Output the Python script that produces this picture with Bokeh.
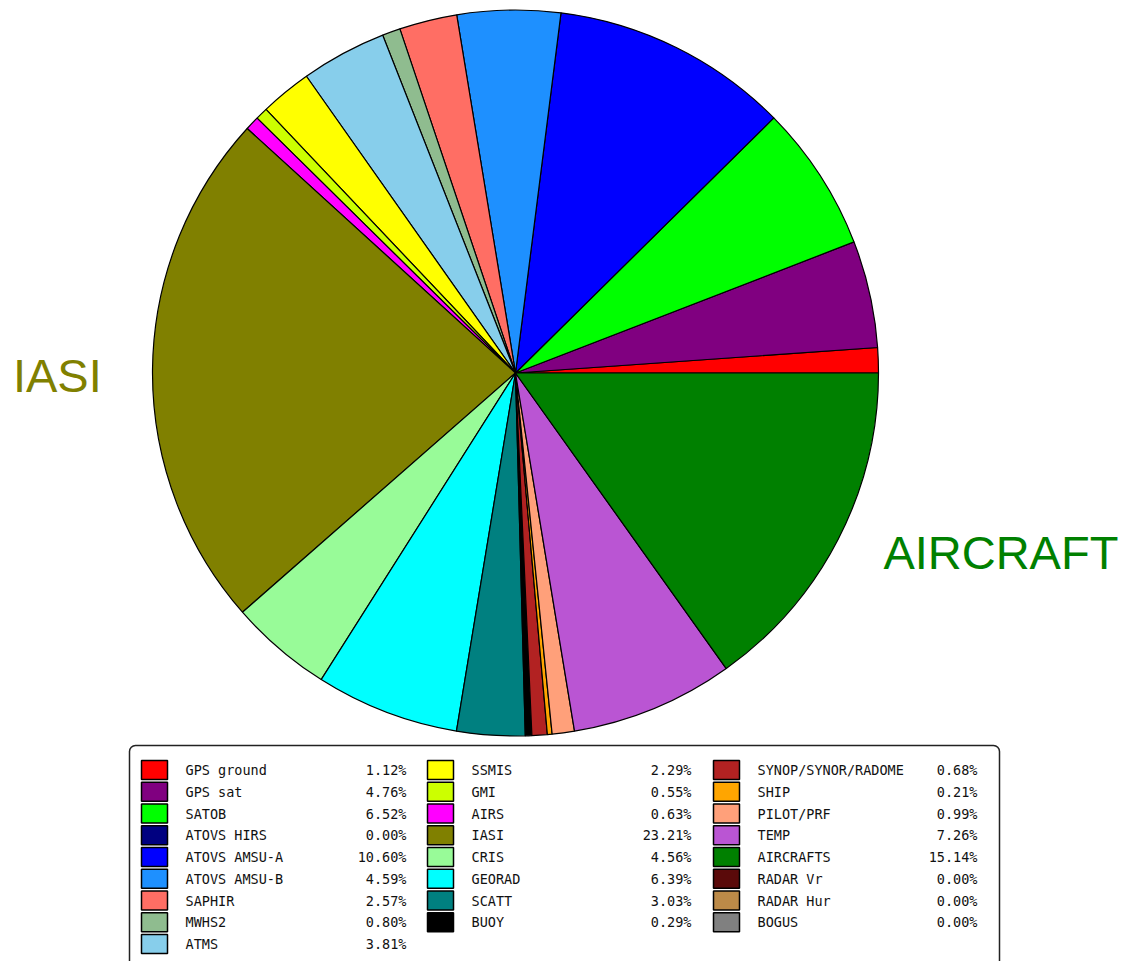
import math
from bokeh.plotting import figure
from bokeh.models import Range1d, BoxAnnotation, ColumnDataSource
from bokeh.core.properties import value
from bokeh.embed import file_html
from bokeh.resources import INLINE

names = ["GPS ground", "GPS sat", "SATOB", "ATOVS HIRS", "ATOVS AMSU-A", "ATOVS AMSU-B",
         "SAPHIR", "MWHS2", "ATMS",
         "SSMIS", "GMI", "AIRS", "IASI", "CRIS", "GEORAD", "SCATT", "BUOY",
         "SYNOP/SYNOR/RADOME", "SHIP", "PILOT/PRF", "TEMP", "AIRCRAFTS", "RADAR Vr", "RADAR Hur", "BOGUS"]
percents = [1.12, 4.76, 6.52, 0.00, 10.60, 4.59, 2.57, 0.80, 3.81,
            2.29, 0.55, 0.63, 23.21, 4.56, 6.39, 3.03, 0.29,
            0.68, 0.21, 0.99, 7.26, 15.14, 0.00, 0.00, 0.00]
colors = ["#ff0000", "#800080", "#00ff00", "#000080", "#0000ff", "#1e90ff",
          "#ff6e64", "#8fbc8f", "#87ceeb",
          "#ffff00", "#ccff00", "#ff00ff", "#808000", "#98fb98", "#00ffff", "#008080", "#000000",
          "#b22222", "#ffa500", "#ffa07a", "#ba55d3", "#008000", "#5a0a0a", "#bc8a48", "#808080"]
big_labels = {"IASI": "IASI", "AIRCRAFTS": "AIRCRAFT"}

W, H = 1126, 961
def Y(py):
    return H - py

p = figure(width=W, height=H, x_range=Range1d(0, W), y_range=Range1d(0, H),
           output_backend="svg", toolbar_location=None, min_border=0)
p.axis.visible = False
p.grid.visible = False
p.outline_line_color = None
p.background_fill_color = "white"
p.border_fill_color = "white"

# pie
cx, cy, r = 515, Y(372.5), 363
total = sum(percents)
starts, ends = [], []
acc = 0.0
for v in percents:
    starts.append(2 * math.pi * acc / total)
    acc += v
    ends.append(2 * math.pi * acc / total)
keep = [i for i, v in enumerate(percents) if v > 0]
src = ColumnDataSource(dict(start=[starts[i] for i in keep], end=[ends[i] for i in keep],
                            color=[colors[i] for i in keep]))
p.wedge(x=cx, y=cy, radius=r, start_angle="start", end_angle="end", direction="anticlock",
        fill_color="color", line_color="black", line_width=1.2, source=src)

# big labels
for i, n in enumerate(names):
    if n in big_labels:
        mid = (starts[i] + ends[i]) / 2
        d = 1.14 * r
        lx = cx + d * math.cos(mid)
        ly = cy + d * math.sin(mid)
        align = "left" if math.cos(mid) > 0 else "right"
        if n == "AIRCRAFTS":
            ly += 10
        else:
            ly -= 7
        p.text(x=[lx], y=[ly], text=[big_labels[n]], text_align=align, text_baseline="middle",
               text_font=value("Liberation Sans"), text_font_size=value("47px"), text_color=colors[i])

# legend
box = BoxAnnotation(left=129, right=999, top=Y(745), bottom=-20, fill_color="white", fill_alpha=1,
                    line_color="#222222", line_alpha=1, line_width=1.5, border_radius=6,
                    level="underlay")
p.add_layout(box)

ncol = 3
n = len(names)
base = n // ncol
extra = n % ncol
counts = [base + (1 if c < extra else 0) for c in range(ncol)]
col_sw = [141, 427, 713]
col_tx = [185, 471, 757]
col_pc = [406, 691, 977]
row0, dy = 769.5, 21.75
sx, sy, lab, pcx, pcy, pct, lx_, ly_ = [], [], [], [], [], [], [], []
idx = 0
sw_colors = []
for c in range(ncol):
    for rr in range(counts[c]):
        yy = Y(row0 + rr * dy)
        sx.append(col_sw[c] + 13)
        sy.append(yy)
        sw_colors.append(colors[idx])
        lx_.append(col_tx[c]); ly_.append(yy); lab.append(names[idx])
        pcx.append(col_pc[c]); pcy.append(yy); pct.append(f"{percents[idx]:.2f}%")
        idx += 1
p.rect(x=sx, y=sy, width=26, height=19, fill_color=sw_colors, line_color="black", line_width=1.5)
p.text(x=lx_, y=ly_, text=lab, text_baseline="middle", text_align="left",
       text_font=value("DejaVu Sans Mono"), text_font_size=value("13.5px"), text_color="#111111")
p.text(x=pcx, y=pcy, text=pct, text_baseline="middle", text_align="right",
       text_font=value("DejaVu Sans Mono"), text_font_size=value("13.5px"), text_color="#111111")

open("out.html", "w").write(file_html(p, INLINE))
